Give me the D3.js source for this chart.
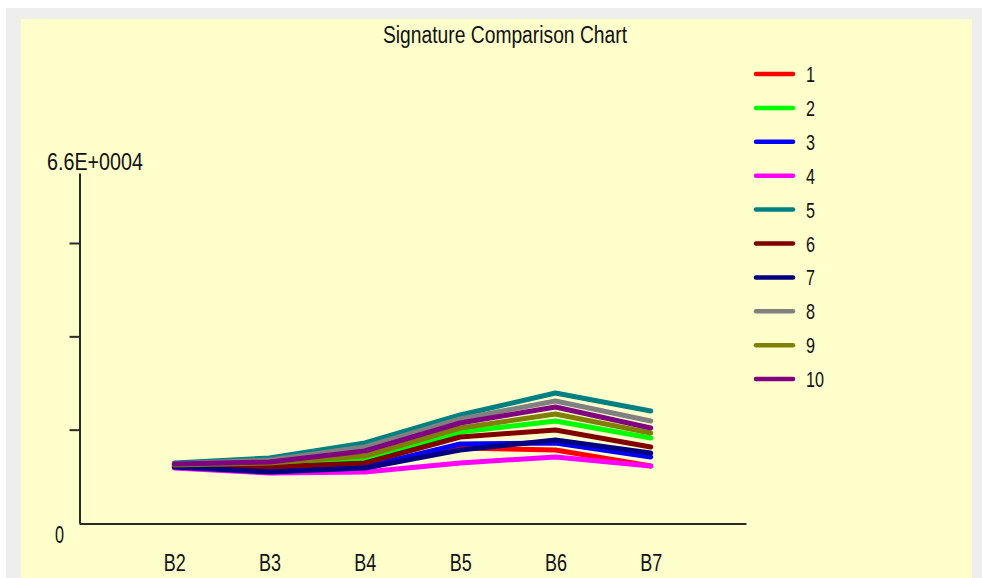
<!DOCTYPE html>
<html>
<head>
<meta charset="utf-8">
<script src="https://cdn.jsdelivr.net/npm/d3@7"></script>
<style>
  body { margin: 0; background: #ffffff; }
  svg text { font-family: "Liberation Sans Narrow", "Arial Narrow", "Liberation Sans", Arial, sans-serif; fill: #111; }
</style>
</head>
<body>
<div id="chart"></div>
<script>
// bands on the x axis
const bands = ['B2', 'B3', 'B4', 'B5', 'B6', 'B7'];

// one array per signature
const sig1 = [10750, 10000, 10370, 14140, 13770, 10750];
const sig2 = [10940, 10750, 11880, 17160, 19230, 16030];
const sig3 = [10560, 9810, 10560, 14900, 15090, 12450];
const sig4 = [10370, 9430, 9620, 11310, 12450, 10750];
const sig5 = [11310, 12260, 15090, 20370, 24510, 21120];
const sig6 = [10940, 10560, 11310, 16220, 17540, 14330];
const sig7 = [10560, 9620, 10370, 13770, 15650, 13200];
const sig8 = [11130, 11880, 14330, 19610, 23010, 19230];
const sig9 = [10940, 11310, 12630, 17910, 20550, 16970];
const sig10 = [11130, 11500, 13580, 18860, 21870, 17910];

const seriesNames = ['1', '2', '3', '4', '5', '6', '7', '8', '9', '10'];
const seriesColors = ['#ff0000', '#00ff00', '#0000ff', '#ff00ff', '#008080',
                      '#800000', '#000080', '#808080', '#808000', '#800080'];

const yMax = 66000;
const yTicks = [17600, 35200, 52800];
const yMaxLabel = '6.6E+0004';
const yMinLabel = '0';
const title = 'Signature Comparison Chart';

const series = [sig1, sig2, sig3, sig4, sig5, sig6, sig7, sig8, sig9, sig10]
   .map((vals, i) => ({ name: seriesNames[i], color: seriesColors[i], values: vals }));

const W = 982, H = 578;
const svg = d3.select('#chart').append('svg')
   .attr('width', W)
   .attr('height', H);

// window frame: gray border then the pale yellow panel
svg.append('rect').attr('x', 6).attr('y', 8).attr('width', W - 6).attr('height', H - 8)
   .attr('fill', '#eeeeee');
svg.append('rect').attr('x', 21).attr('y', 19).attr('width', 951).attr('height', H - 19)
   .attr('fill', '#ffffcc');

// the original font is tall and narrow, so squeeze a bigger size into the measured width
svg.append('text')
   .attr('x', 505).attr('y', 43)
   .attr('text-anchor', 'middle')
   .attr('font-size', 23)
   .attr('textLength', 244)
   .attr('lengthAdjust', 'spacingAndGlyphs')
   .text(title);

//scales
const x = d3.scalePoint().domain(bands).range([79, 746]).padding(1);
const y = d3.scaleLinear().domain([0, yMax]).range([523, 173]);

// y axis: short ticks to the left, no labels (the end labels are drawn apart)
const yAxis = svg.append('g')
   .attr('transform', 'translate(79.5,0)')
   .call(d3.axisLeft(y).tickValues(yTicks).tickSize(10).tickSizeOuter(0).tickFormat(''));
yAxis.selectAll('path, line').attr('stroke', '#2a2a2a').attr('stroke-width', 2);

const xAxis = svg.append('g')
   .attr('transform', 'translate(0,523.5)')
   .call(d3.axisBottom(x).tickSize(0).tickSizeOuter(0));
xAxis.select('.domain').attr('stroke', '#2a2a2a').attr('stroke-width', 2);
xAxis.selectAll('text')
   .attr('y', 47).attr('dy', 0)
   .attr('font-size', 23)
   .attr('font-family', null)
   .attr('fill', '#111')
   .attr('textLength', 22)
   .attr('lengthAdjust', 'spacingAndGlyphs');

svg.append('text')
   .attr('x', 47).attr('y', 170)
   .attr('font-size', 23)
   .attr('textLength', 96)
   .attr('lengthAdjust', 'spacingAndGlyphs')
   .text(yMaxLabel);
svg.append('text')
   .attr('x', 59.5).attr('y', 543)
   .attr('text-anchor', 'middle')
   .attr('font-size', 23)
   .attr('textLength', 9)
   .attr('lengthAdjust', 'spacingAndGlyphs')
   .text(yMinLabel);

// the signature lines, 1 at the bottom of the stack, 10 on top
const line = d3.line()
   .x((d, i) => x(bands[i]))
   .y((d) => y(d));

svg.append('g')
   .selectAll('path')
   .data(series)
   .join('path')
   .attr('d', (d) => line(d.values))
   .attr('fill', 'none')
   .attr('stroke', (d) => d.color)
   .attr('stroke-width', 5)
   .attr('stroke-linejoin', 'round')
   .attr('stroke-linecap', 'round');

//legend
const legend = svg.append('g')
   .selectAll('g')
   .data(series)
   .join('g')
   .attr('transform', (d, i) => `translate(0,${74 + i * 33.9})`);
legend.append('line')
   .attr('x1', 756).attr('x2', 793)
   .attr('stroke', (d) => d.color)
   .attr('stroke-width', 4.5)
   .attr('stroke-linecap', 'round');
legend.append('text')
   .attr('x', 806).attr('y', 8)
   .attr('font-size', 22)
   .attr('textLength', (d) => d.name.length * 9)
   .attr('lengthAdjust', 'spacingAndGlyphs')
   .text((d) => d.name);
</script>
</body>
</html>
